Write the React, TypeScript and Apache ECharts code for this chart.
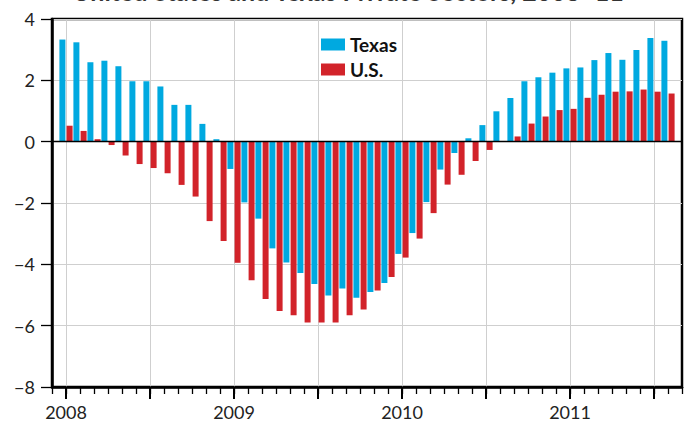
import React, { useEffect, useRef } from "react";
import * as echarts from "echarts";

// Monthly percent change, Jan 2008 .. Aug 2011
const texas = [
  3.33, 3.24, 2.59, 2.64, 2.46, 1.97, 1.97, 1.8, 1.2, 1.2, 0.58, 0.08,
  -0.89, -1.98, -2.51, -3.48, -3.94, -4.28, -4.64, -5.02, -4.79, -5.09, -4.9, -4.61,
  -3.66, -2.98, -1.97, -0.91, -0.37, 0.11, 0.54, 0.99, 1.42, 1.97, 2.1, 2.25,
  2.39, 2.42, 2.66, 2.89, 2.67, 2.99, 3.38, 3.29,
];
const us = [
  0.52, 0.35, 0.08, -0.11, -0.45, -0.73, -0.86, -1.03, -1.41, -1.79, -2.59, -3.24,
  -3.95, -4.52, -5.13, -5.52, -5.66, -5.9, -5.9, -5.9, -5.66, -5.47, -4.85, -4.41,
  -3.78, -3.16, -2.33, -1.4, -1.08, -0.63, -0.27, 0.0, 0.17, 0.59, 0.82, 1.03,
  1.07, 1.43, 1.53, 1.63, 1.64, 1.7, 1.63, 1.57,
];
const seriesNames = ["Texas", "U.S."];
const yearLabels = ["2008", "2009", "2010", "2011"];
const titleText = "United States and Texas Private Sectors, 2008–11";

// categories: Dec 2007 (padding), Jan 2008..Aug 2011, Sep 2011 (padding)
const categories: string[] = ["2007-12"];
for (let k = 0; k < texas.length; k++) {
  const y = yearLabels[Math.floor(k / 12)];
  const m = (k % 12) + 1;
  categories.push(`${y}-${m < 10 ? "0" + m : m}`);
}
categories.push("2011-09");

const texasData = [null, ...texas, null];
const usData = [null, ...us, null];

const FONT = "Lato, 'Noto Sans', sans-serif";

export default function App() {
  const ref = useRef<HTMLDivElement>(null);
  useEffect(() => {
    if (!ref.current) return;
    const chart = echarts.init(ref.current, null, { renderer: "svg" });
    const lastIdx = texas.length;
    const isJan = (i: number) => i >= 1 && i <= lastIdx && (i - 1) % 12 === 0;
    const isJanJul = (i: number) => i >= 1 && i <= lastIdx && (i - 1) % 6 === 0;
    chart.setOption({
      animation: false,
      backgroundColor: "#fff",
      textStyle: { fontFamily: FONT },
      grid: {
        left: 52,
        right: 17,
        top: 19,
        bottom: 35,
        show: true,
        borderColor: "#000",
        borderWidth: 2.5,
        backgroundColor: "transparent",
      },
      graphic: [
        {
          type: "text",
          x: 348,
          y: -9,
          style: {
            text: titleText,
            font: `bold 25px ${FONT}`,
            fill: "#333",
            textAlign: "center",
            textVerticalAlign: "middle",
          },
        },
      ],
      legend: {
        data: seriesNames,
        orient: "vertical",
        left: 316,
        top: 30,
        itemWidth: 24,
        itemHeight: 12,
        itemGap: 6,
        icon: "rect",
        textStyle: {
          fontFamily: FONT,
          fontWeight: "bold",
          fontSize: 19,
          lineHeight: 19,
          color: "#111",
        },
      },
      xAxis: [
        {
          type: "category",
          data: categories,
          boundaryGap: false,
          position: "bottom",
          axisLine: { show: true, onZero: false, lineStyle: { color: "#000", width: 2.5 } },
          axisTick: {
            show: true,
            length: 12,
            interval: (i: number) => isJanJul(i),
            lineStyle: { color: "#000", width: 2 },
          },
          axisLabel: {
            show: true,
            interval: (i: number) => isJan(i),
            formatter: (v: string) => v.slice(0, 4),
            fontFamily: FONT,
            fontSize: 18,
            color: "#222",
            margin: 16,
          },
          splitLine: {
            show: true,
            interval: (i: number) => isJanJul(i),
            lineStyle: { color: "#cfcfcf", width: 1 },
          },
        },
        {
          type: "category",
          data: categories,
          boundaryGap: false,
          position: "bottom",
          axisLine: { show: false, onZero: false },
          axisTick: {
            show: true,
            length: 7,
            interval: 0,
            lineStyle: { color: "#000", width: 1.3 },
          },
          axisLabel: { show: false },
          splitLine: { show: false },
        },
      ],
      yAxis: {
        type: "value",
        min: -8,
        max: 4,
        interval: 2,
        axisLine: { show: true, lineStyle: { color: "#000", width: 2.5 } },
        axisTick: { show: true, length: 11, lineStyle: { color: "#000", width: 1.3 } },
        axisLabel: {
          fontFamily: FONT,
          fontSize: 18,
          color: "#222",
          margin: 17,
          formatter: (v: number) => String(v).replace("-", "\u2212"),
        },
        splitLine: { show: true, lineStyle: { color: "#cfcfcf", width: 1 } },
      },
      series: [
        {
          name: seriesNames[0],
          type: "bar",
          data: texasData,
          barWidth: 6,
          barGap: "20%",
          itemStyle: { color: "#00a9e0" },
          markLine: {
            silent: true,
            symbol: "none",
            label: { show: false },
            lineStyle: { color: "#000", width: 1.3, type: "solid" },
            data: [{ yAxis: 0 }],
          },
        },
        {
          name: seriesNames[1],
          type: "bar",
          data: usData,
          barWidth: 6,
          barGap: "20%",
          itemStyle: { color: "#d2232a" },
        },
      ],
    });
    return () => chart.dispose();
  }, []);
  return (
    <div
      ref={ref}
      style={{ position: "fixed", left: 0, top: 0, width: 699, height: 422 }}
    />
  );
}
